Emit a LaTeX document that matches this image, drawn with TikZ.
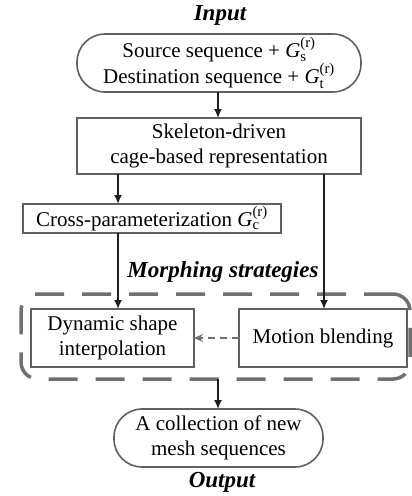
\documentclass[tikz,border=0pt]{standalone}
\usepackage{fontspec}
\usepackage{amsmath}
\setmainfont{Liberation Serif}
\usetikzlibrary{arrows.meta}
\definecolor{boxgray}{HTML}{606060}
\definecolor{dashgray}{HTML}{707070}
\definecolor{arrowdark}{HTML}{1E1E1E}
\begin{document}
\begin{tikzpicture}[x=1pt,y=-1pt,
  every node/.style={inner sep=0pt, outer sep=0pt},
  txt/.style={font=\fontsize{21}{24.5}\selectfont, align=center, text=black},
  procbox/.style={txt, draw=boxgray, line width=1.6pt, rectangle},
  termbox/.style={procbox, rounded corners=28pt},
  regionbox/.style={draw=dashgray, line width=3.5pt, dash pattern=on 29pt off 18pt, rounded corners=17pt},
  heading/.style={font=\fontsize{23}{26}\selectfont\bfseries\itshape, text=black},
  flow/.style={draw=arrowdark, line width=1.6pt, -{Latex[length=9pt,width=8pt]}},
  weakflow/.style={draw=dashgray, line width=2pt, dash pattern=on 7pt off 5pt, -{Stealth[length=9pt,width=8pt,inset=3pt]}}
]
\useasboundingbox (0,0) rectangle (412,496);

\node[heading] (inlabel) at (220,15) {Input};
\node[termbox, minimum width=284pt, minimum height=58pt] (top) at (219,63)
  {Source sequence + \textit{G}$^{\text{(r)}}_{\text{s}}$\\Destination sequence + \textit{G}$^{\text{(r)}}_{\text{t}}$};
\node[procbox, minimum width=284pt, minimum height=56pt] (skel) at (219,146)
  {Skeleton-driven\\cage-based representation};
\node[procbox, minimum width=258pt, minimum height=29pt] (cross) at (152,218.5)
  {Cross-parameterization \textit{G}$^{\text{(r)}}_{\text{c}}$};
\node[heading] (mlabel) at (223,272) {Morphing strategies};
\node[regionbox, minimum width=389pt, minimum height=85pt] (region) at (215.5,336.5) {};
\node[procbox, minimum width=163pt, minimum height=58pt] (dyn) at (112.5,338)
  {Dynamic shape\\interpolation};
\node[procbox, minimum width=168pt, minimum height=58pt] (motion) at (323,338)
  {Motion blending};
\node[termbox, minimum width=209pt, minimum height=58pt] (out) at (218.5,438)
  {A collection of new\\mesh sequences};
\node[heading] (outlabel) at (222,482) {Output};

\draw[flow] (top.south -| 218,0) -- (skel.north -| 218,0);
\draw[flow] (skel.south -| 118,0) -- (cross.north -| 118,0);
\draw[flow] (cross.south -| 118,0) -- (dyn.north -| 118,0);
\draw[flow] (skel.south -| 324,0) -- (motion.north -| 324,0);
\draw[weakflow] (motion.west) -- (dyn.east);
\draw[flow] (region.south -| 218,0) -- (out.north -| 218,0);
\end{tikzpicture}
\end{document}
